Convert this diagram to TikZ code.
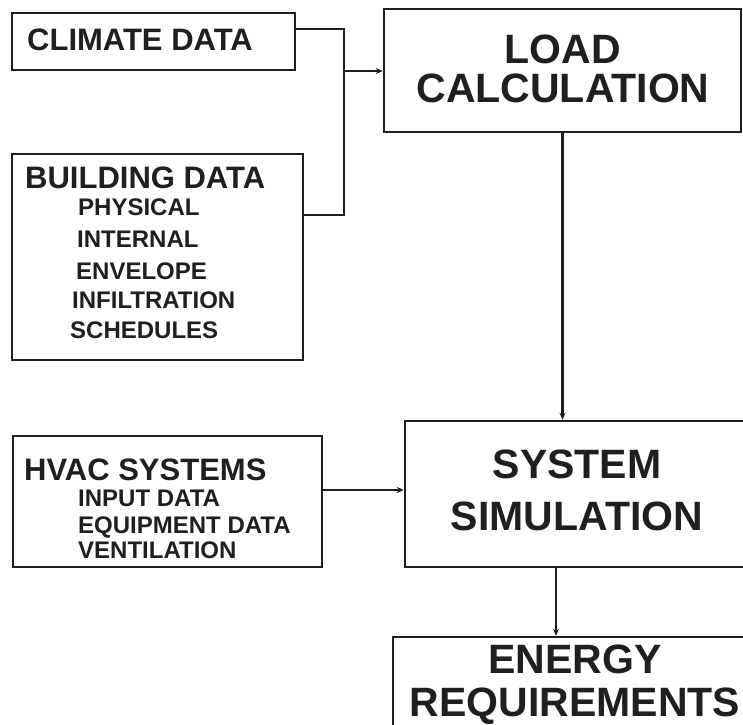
\documentclass[tikz,border=0pt]{standalone}
\usepackage{fontspec}
\setmainfont{Liberation Sans}
\usetikzlibrary{arrows.meta}
\tikzset{
  box/.style={draw=black!88, line width=2.5pt, rectangle, inner sep=0pt},
  conn/.style={draw=black!88, line width=2.3pt},
  arr/.style={conn, -{Stealth[length=7pt,width=6pt]}},
  head/.style={anchor=base west, inner sep=0pt, text=black!88, font=\bfseries\fontsize{31}{31}\selectfont},
  sub/.style={anchor=base west, inner sep=0pt, text=black!88, font=\bfseries\fontsize{24}{24}\selectfont},
  big/.style={anchor=base, inner sep=0pt, text=black!88, font=\bfseries\fontsize{41}{41}\selectfont},
}
\begin{document}
\begin{tikzpicture}[x=1pt,y=-1pt]
\useasboundingbox (0,0) rectangle (743,724);
\clip (0,0) rectangle (743,724);
\fill[white] (0,0) rectangle (743,724);
% boxes
\node[box, minimum width=283pt, minimum height=57pt] (climate) at (153.5,41.5) {};
\node[box, minimum width=357pt, minimum height=123pt] (load) at (562.5,70.5) {};
\node[box, minimum width=291pt, minimum height=206pt] (building) at (157.5,257) {};
\node[box, minimum width=309pt, minimum height=131pt] (hvac) at (167.5,501.5) {};
\node[box, minimum width=344pt, minimum height=146pt] (sys) at (577,494) {};
\node[box, minimum width=364pt, minimum height=140pt] (energy) at (575,707) {};
% texts
\node[head] (tclim) at (27,50) {CLIMATE DATA};
\node[big] (tload1) at (563,63) {LOAD};
\node[big] (tload2) at (563,102) {CALCULATION};
\node[head] (tbuild) at (25,188) {BUILDING DATA};
\node[sub] (tphys) at (78,215) {PHYSICAL};
\node[sub] (tint) at (77,247) {INTERNAL};
\node[sub] (tenv) at (76,279) {ENVELOPE};
\node[sub] (tinf) at (72,308) {INFILTRATION};
\node[sub] (tsch) at (70,338) {SCHEDULES};
\node[head] (thvac) at (24,480) {HVAC SYSTEMS};
\node[sub] (tinp) at (78,506) {INPUT DATA};
\node[sub] (tequ) at (78,533) {EQUIPMENT DATA};
\node[sub] (tven) at (78,558) {VENTILATION};
\node[big] (tsys1) at (577,478) {SYSTEM};
\node[big] (tsys2) at (577,530) {SIMULATION};
\node[big] (teng1) at (575,673) {ENERGY};
\node[big] (teng2) at (575,716) {REQUIREMENTS};
% connectors
\coordinate (jc) at (344,29);
\coordinate (jb) at (344,215);
\coordinate (ja) at (344,71);
\coordinate (jh) at (330,490);
\coordinate (js) at (556,600);
\draw[conn] (jc -| climate.east) -- (jc) -- (jb) -- (jb -| building.east);
\draw[arr] (ja) -- (ja -| load.west);
\draw[arr] (load.south) -- (load.south |- sys.north);
\draw[arr] (jh -| hvac.east) -- (jh -| sys.west);
\draw[arr] (js |- sys.south) -- (js |- energy.north);
\end{tikzpicture}
\end{document}
